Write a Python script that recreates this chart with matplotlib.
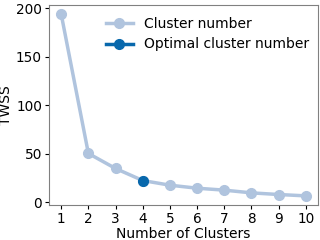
import numpy as np
import matplotlib
matplotlib.use("Agg")
import matplotlib.pyplot as plt

k = [1, 2, 3, 4, 5, 6, 7, 8, 9, 10]
twss = [194, 50.5, 35, 22.6, 17.8, 14.7, 12.7, 9.9, 8.2, 6.8]
k_opt = 4
twss_opt = 22.6

fig, ax = plt.subplots(figsize=(3.2, 2.4), dpi=100)
ax.plot(k, twss, "-o", color="#b0c4de", lw=2.5, ms=7, label="Cluster number")
ax.plot([k_opt], [twss_opt], "-o", color="#0868ac", lw=2.5, ms=7, label="Optimal cluster number")
ax.set_xticks(k)
ax.set_yticks([0, 50, 100, 150, 200])
ax.tick_params(labelsize=9.8, length=3, pad=2)
ax.set_xlabel("Number of Clusters", fontsize=10, labelpad=1)
ax.set_ylabel("TWSS", fontsize=10, labelpad=2)
for s in ax.spines.values():
    s.set_color("#808080")
ax.legend(loc="upper right", bbox_to_anchor=(1.015, 1.005), frameon=False, fontsize=10)
fig.subplots_adjust(left=0.153, right=0.994, top=0.979, bottom=0.146)
fig.savefig("out.png", dpi=100)
